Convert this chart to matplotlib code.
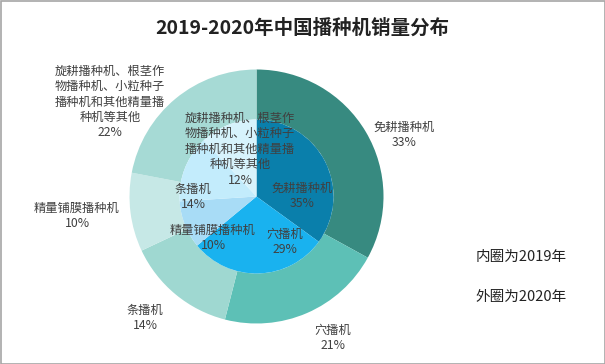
import matplotlib
matplotlib.use("Agg")
import matplotlib.pyplot as plt
from matplotlib.patches import Rectangle

plt.rcParams['font.family'] = ['Noto Sans CJK SC', 'DejaVu Sans']

# data
title = '2019-2020年中国播种机销量分布'
other = '旋耕播种机、根茎作\n物播种机、小粒种子\n播种机和其他精量播\n种机等其他'

inner_names = ['免耕播种机', '穴播机', '精量铺膜播种机', '条播机', other]
inner_vals = [35, 29, 10, 14, 12]      # 2019
outer_names = ['免耕播种机', '穴播机', '条播机', '精量铺膜播种机', other]
outer_vals = [33, 21, 14, 10, 22]      # 2020

inner_colors = ['#0a7fab', '#19b2ef', '#a8dcf6', '#c3ecfc', '#d7f3fc']
outer_colors = ['#378a80', '#5dc0b6', '#9fd8d1', '#c6e8e6', '#a6dad5']

# label anchors in pixels (x, y from top), layout only
inner_pos = [(302, 196), (285, 242), (213, 238), (193, 197), (240, 149)]
outer_pos = [(404, 135), (333, 338), (145, 318), (77, 216), (110, 102)]

W, H = 605, 364
cx, cy = 256.5, 196.5
R_out, R_in = 127, 77
txt = '#404040'

fig = plt.figure(figsize=(W / 100, H / 100), dpi=100)
ax = fig.add_axes([0, 0, 1, 1])

ax.pie(outer_vals, radius=R_out, center=(cx, H - cy), startangle=90,
       counterclock=False, colors=outer_colors,
       wedgeprops=dict(width=R_out - R_in, linewidth=0))
ax.pie(inner_vals, radius=R_in, center=(cx, H - cy), startangle=90,
       counterclock=False, colors=inner_colors,
       wedgeprops=dict(linewidth=0))

ax.set_xlim(0, W)
ax.set_ylim(0, H)
ax.set_aspect('equal')
ax.axis('off')


def put_label(name, val, pos):
    x, y = pos
    ax.text(x, H - y, name + '\n' + f'{val}%', ha='center', va='center',
            fontsize=8.8, color=txt, linespacing=1.25)


for name, val, pos in zip(inner_names, inner_vals, inner_pos):
    put_label(name, val, pos)
for name, val, pos in zip(outer_names, outer_vals, outer_pos):
    put_label(name, val, pos)

ax.text(W / 2, H - 28, title, ha='center', va='center', fontsize=14,
        fontweight='bold', color='#222222')
ax.text(521, H - 257, '内圈为2019年', ha='center', va='center',
        fontsize=10.5, color='#222222')
ax.text(521, H - 297, '外圈为2020年', ha='center', va='center',
        fontsize=10.5, color='#222222')

ax.add_patch(Rectangle((0.5, 0.5), W - 1, H - 1, fill=False,
                       edgecolor='#a6a6a6', linewidth=1.2))

fig.savefig('out.png', dpi=100)
